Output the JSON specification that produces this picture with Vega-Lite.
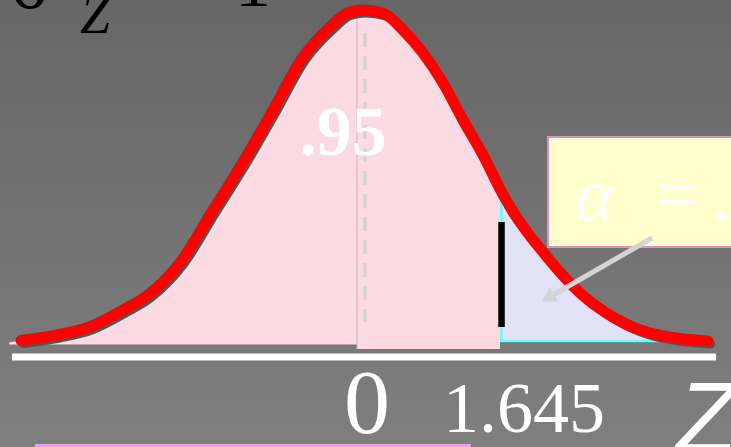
{
  "$schema": "https://vega.github.io/schema/vega-lite/v6.json",
  "width": 731,
  "height": 447,
  "autosize": {"type": "none"},
  "padding": 0,
  "background": "#707070",
  "config": {"view": {"stroke": null}},
  "datasets": {
    "frame": [{"z": -4.23, "z2": 4.3593, "y": -0.13009, "y2": 0.41337}],
    "curve": [
      {"z": -4.124, "y": -0.0030},
      {"z": -3.983, "y": -0.0006},
      {"z": -3.560, "y": 0.0061},
      {"z": -3.173, "y": 0.0162},
      {"z": -2.785, "y": 0.0365},
      {"z": -2.491, "y": 0.0547},
      {"z": -2.092, "y": 0.0973},
      {"z": -1.727, "y": 0.1581},
      {"z": -1.375, "y": 0.2164},
      {"z": -1.022, "y": 0.2796},
      {"z": -0.670, "y": 0.3441},
      {"z": -0.353, "y": 0.3805},
      {"z": -0.153, "y": 0.3976},
      {"z": -0.035, "y": 0.4006},
      {"z": 0.035, "y": 0.4012},
      {"z": 0.270, "y": 0.3976},
      {"z": 0.505, "y": 0.3769},
      {"z": 0.740, "y": 0.3489},
      {"z": 0.975, "y": 0.3125},
      {"z": 1.210, "y": 0.2675},
      {"z": 1.445, "y": 0.2249},
      {"z": 1.645, "y": 0.1836},
      {"z": 1.763, "y": 0.1617},
      {"z": 2.197, "y": 0.1009},
      {"z": 2.585, "y": 0.0571},
      {"z": 2.973, "y": 0.0280},
      {"z": 3.372, "y": 0.0097},
      {"z": 4.089, "y": -0.0012}
    ],
    "axisLine": [{"z": -4.089, "z2": 4.183, "y": -0.0207, "y2": -0.0207}],
    "cyanEdges": [
      {"z": 1.660, "z2": 1.660, "y": 0.0, "y2": 0.170},
      {"z": 1.645, "z2": 3.525, "y": -0.0012, "y2": -0.0012}
    ],
    "splitLine": [{"z": -0.035, "z2": -0.035, "y": -0.0109, "y2": 0.400}],
    "meanLine": [{"z": 0.059, "z2": 0.059, "y": 0.3733, "y2": 0.0219}],
    "criticalBar": [{"z": 1.663, "z2": 1.663, "y": 0.1435, "y2": 0.0158}],
    "arrowShaft": [{"z": 3.431, "z2": 2.268, "y": 0.1240, "y2": 0.0547}],
    "arrowHead": [{"z": 2.209, "y": 0.0511}],
    "alphaBox": [{"z": 2.209, "z2": 4.465, "y": 0.2468, "y2": 0.1131}],
    "alphaText": [
      {"z": 2.526, "y": 0.1459, "label": "α"},
      {"z": 3.419, "y": 0.1459, "label": "="},
      {"z": 4.148, "y": 0.1459, "label": "."}
    ],
    "areaText": [{"z": -0.200, "y": 0.2249, "label": ".95"}],
    "zeroText": [{"z": 0.082, "y": -0.1131, "label": "0"}],
    "critText": [{"z": 1.927, "y": -0.1119, "label": "1.645"}],
    "axisName": [{"z": 3.713, "y": -0.1362, "label": "Z"}],
    "sigmaText": [
      {"z": -3.866, "y": 0.4036, "label": "σ"},
      {"z": -1.257, "y": 0.4061, "label": "1"}
    ],
    "sigmaSub": [{"z": -3.290, "y": 0.3733, "label": "Z"}],
    "boxEdge": [{"z": -3.819, "z2": 1.304, "y": -0.1283, "y2": -0.1283}]
  },
  "encoding": {
    "x": {"field": "z", "type": "quantitative", "axis": null,
          "scale": {"domain": [-4.23, 4.3593], "nice": false, "zero": false}},
    "y": {"field": "y", "type": "quantitative", "axis": null,
          "scale": {"domain": [-0.13009, 0.41337], "nice": false, "zero": false}}
  },
  "layer": [
    {
      "data": {"name": "frame"},
      "mark": {"type": "rect", "fill": {"gradient": "linear", "x1": 0, "y1": 0, "x2": 0, "y2": 1,
        "stops": [{"offset": 0, "color": "#666666"}, {"offset": 1, "color": "#7f7f7f"}]}},
      "encoding": {"x2": {"field": "z2"}, "y2": {"field": "y2"}}
    },
    {
      "data": {"name": "axisLine"},
      "mark": {"type": "rule", "color": "#ffffff", "strokeWidth": 7},
      "encoding": {"x2": {"field": "z2"}, "y2": {"field": "y2"}}
    },
    {
      "data": {"name": "curve"},
      "transform": [{"filter": "datum.z <= -0.035"}],
      "mark": {"type": "area", "color": "#fcdae3", "interpolate": "monotone"},
      "encoding": {"y2": {"datum": -0.0055}}
    },
    {
      "data": {"name": "curve"},
      "transform": [{"filter": "datum.z >= -0.035 && datum.z <= 1.645"}],
      "mark": {"type": "area", "color": "#fcdae3", "interpolate": "monotone"},
      "encoding": {"y2": {"datum": -0.0109}}
    },
    {
      "data": {"name": "curve"},
      "transform": [{"filter": "datum.z >= 1.645"}],
      "mark": {"type": "area", "color": "#e2e2f6", "interpolate": "monotone"},
      "encoding": {"y2": {"datum": 0}}
    },
    {
      "data": {"name": "cyanEdges"},
      "mark": {"type": "rule", "color": "#66ffff", "strokeWidth": 2.5},
      "encoding": {"x2": {"field": "z2"}, "y2": {"field": "y2"}}
    },
    {
      "data": {"name": "splitLine"},
      "mark": {"type": "rule", "color": "#c9b5bb", "strokeWidth": 1},
      "encoding": {"x2": {"field": "z2"}, "y2": {"field": "y2"}}
    },
    {
      "data": {"name": "meanLine"},
      "mark": {"type": "rule", "color": "#d2d2d2", "strokeWidth": 3, "strokeDash": [14, 9]},
      "encoding": {"x2": {"field": "z2"}, "y2": {"field": "y2"}}
    },
    {
      "data": {"name": "curve"},
      "transform": [{"filter": "datum.z >= -4.0"}],
      "mark": {"type": "line", "color": "#555555", "strokeWidth": 9, "interpolate": "monotone",
               "xOffset": 2.5, "yOffset": 3, "strokeCap": "round", "strokeJoin": "round"},
      "encoding": {}
    },
    {
      "data": {"name": "curve"},
      "transform": [{"filter": "datum.z >= -4.0"}],
      "mark": {"type": "line", "color": "#ff0000", "strokeWidth": 11, "interpolate": "monotone",
               "strokeCap": "round", "strokeJoin": "round"},
      "encoding": {}
    },
    {
      "data": {"name": "criticalBar"},
      "mark": {"type": "rule", "color": "#000000", "strokeWidth": 6.5},
      "encoding": {"x2": {"field": "z2"}, "y2": {"field": "y2"}}
    },
    {
      "data": {"name": "alphaBox"},
      "mark": {"type": "rect", "fill": "#ffffcc", "stroke": "#e58fbf", "strokeWidth": 2},
      "encoding": {"x2": {"field": "z2"}, "y2": {"field": "y2"}}
    },
    {
      "data": {"name": "arrowShaft"},
      "mark": {"type": "rule", "color": "#d4d4d4", "strokeWidth": 5},
      "encoding": {"x2": {"field": "z2"}, "y2": {"field": "y2"}}
    },
    {
      "data": {"name": "arrowHead"},
      "mark": {"type": "point", "shape": "triangle-up", "filled": true, "color": "#d4d4d4",
               "size": 260, "angle": 240, "opacity": 1},
      "encoding": {}
    },
    {
      "data": {"name": "alphaText"},
      "mark": {"type": "text", "color": "#ffffff", "font": "Liberation Serif", "fontStyle": "italic",
               "fontSize": 76, "align": "left", "baseline": "alphabetic"},
      "encoding": {"text": {"field": "label"}}
    },
    {
      "data": {"name": "areaText"},
      "mark": {"type": "text", "color": "#ffffff", "font": "Liberation Serif", "fontWeight": "bold",
               "fontSize": 70, "align": "center", "baseline": "alphabetic"},
      "encoding": {"text": {"field": "label"}}
    },
    {
      "data": {"name": "zeroText"},
      "mark": {"type": "text", "color": "#ffffff", "font": "Liberation Serif",
               "fontSize": 92, "align": "center", "baseline": "alphabetic"},
      "encoding": {"text": {"field": "label"}}
    },
    {
      "data": {"name": "critText"},
      "mark": {"type": "text", "color": "#ffffff", "font": "Liberation Serif",
               "fontSize": 72, "align": "center", "baseline": "alphabetic"},
      "encoding": {"text": {"field": "label"}}
    },
    {
      "data": {"name": "axisName"},
      "mark": {"type": "text", "color": "#ffffff", "font": "Liberation Sans", "fontStyle": "italic",
               "fontSize": 100, "align": "left", "baseline": "alphabetic"},
      "encoding": {"text": {"field": "label"}}
    },
    {
      "data": {"name": "sigmaText"},
      "mark": {"type": "text", "color": "#000000", "font": "Liberation Serif",
               "fontSize": 72, "align": "center", "baseline": "alphabetic"},
      "encoding": {"text": {"field": "label"}}
    },
    {
      "data": {"name": "sigmaSub"},
      "mark": {"type": "text", "color": "#000000", "font": "Liberation Serif", "fontStyle": "italic",
               "fontSize": 54, "align": "left", "baseline": "alphabetic"},
      "encoding": {"text": {"field": "label"}}
    },
    {
      "data": {"name": "boxEdge"},
      "mark": {"type": "rule", "color": "#f29af2", "strokeWidth": 3},
      "encoding": {"x2": {"field": "z2"}, "y2": {"field": "y2"}}
    }
  ]
}
